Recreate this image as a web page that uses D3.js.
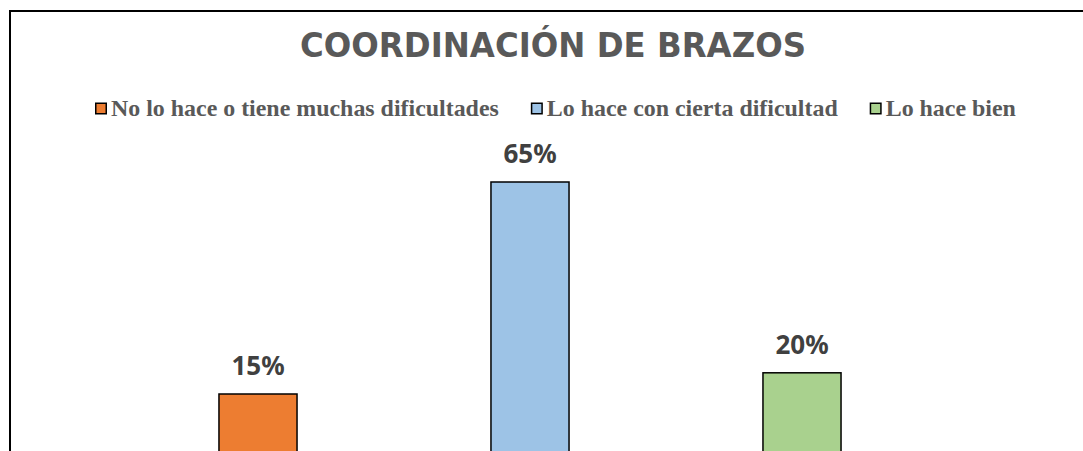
<!DOCTYPE html>
<html>
<head>
<meta charset="utf-8">
<script src="https://cdn.jsdelivr.net/npm/d3@7"></script>
<style>
  html, body { margin: 0; padding: 0; background: #fff; overflow: hidden; }
</style>
</head>
<body>
<div id="chart"></div>
<script>
var categories = ["No lo hace o tiene muchas dificultades", "Lo hace con cierta dificultad", "Lo hace bien"];
var values = [15, 65, 20];
var labels = ["15%", "65%", "20%"];
var colors = ["#ED7D31", "#9DC3E6", "#A9D18E"];
var title = "COORDINACIÓN DE BRAZOS";

(function() {
    var width = 1083, height = 451;

    var svg = d3.select("#chart")
        .append("svg")
        .attr("width", width)
        .attr("height", height);

    // chart frame, runs off the right and bottom edge like the screenshot
    svg.append("rect")
        .attr("x", 10)
        .attr("y", 11)
        .attr("width", 1200)
        .attr("height", 600)
        .attr("fill", "#fff")
        .attr("stroke", "#000")
        .attr("stroke-width", 2);

    svg.append("text")
        .attr("x", 553)
        .attr("y", 57)
        .attr("text-anchor", "middle")
        .attr("font-family", "DejaVu Sans")
        .attr("font-weight", "bold")
        .attr("font-size", "33px")
        .attr("fill", "#595959")
        .attr("textLength", 506)
        .attr("lengthAdjust", "spacingAndGlyphs")
        .text(title);

    // legend
    var stretch = 1.04;
    var legend = svg.append("g").attr("transform", "translate(95,116)");
    var lx = 0;
    categories.forEach(function(c, i) {
        legend.append("rect")
            .attr("x", lx + 0.75)
            .attr("y", -12.75)
            .attr("width", 10.5)
            .attr("height", 10.5)
            .attr("fill", colors[i])
            .attr("stroke", "#000")
            .attr("stroke-width", 1.5);
        var t = legend.append("text")
            .attr("transform", "translate(" + (lx + 16) + ",0) scale(" + stretch + ",1)")
            .attr("font-family", "Liberation Serif")
            .attr("font-weight", "bold")
            .attr("font-size", "23px")
            .attr("fill", "#595959")
            .text(c);
        lx += 16 + t.node().getComputedTextLength() * stretch + 32;
    });

    var x = d3.scaleBand()
        .domain(categories)
        .range([122, 938])
        .paddingInner(0.713)
        .paddingOuter(0.3565);

    var y = d3.scaleLinear()
        .domain([0, 65])
        .range([457.6, 182]);

    svg.selectAll(".bar")
        .data(values)
        .enter().append("rect")
        .attr("class", "bar")
        .attr("x", function(d, i) { return x(categories[i]); })
        .attr("y", function(d) { return y(d); })
        .attr("width", x.bandwidth())
        .attr("height", function(d) { return y(0) - y(d); })
        .attr("fill", function(d, i) { return colors[i]; })
        .attr("stroke", "#000")
        .attr("stroke-width", 1.5);

    svg.selectAll(".bar-label")
        .data(values)
        .enter().append("text")
        .attr("class", "bar-label")
        .attr("x", function(d, i) { return x(categories[i]) + x.bandwidth() / 2; })
        .attr("y", function(d) { return y(d) - 19; })
        .attr("text-anchor", "middle")
        .attr("font-family", "Noto Sans")
        .attr("font-weight", "bold")
        .attr("font-size", "26px")
        .attr("fill", "#404040")
        .text(function(d, i) { return labels[i]; });
})();
</script>
</body>
</html>
